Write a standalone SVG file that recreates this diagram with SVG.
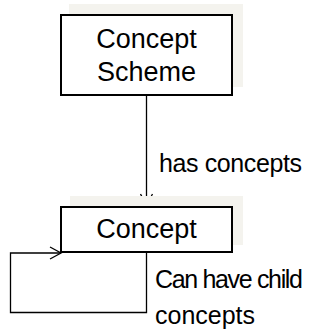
<svg xmlns="http://www.w3.org/2000/svg" width="323" height="329" viewBox="0 0 323 329">
  <style>
    .shade { fill: #f4f3ee; stroke: none; }
    .box { fill: #ffffff; stroke: #000000; stroke-width: 2; }
    .name { font-family: "Liberation Sans", Arial, sans-serif; font-size: 27px; fill: #000000; text-anchor: middle; }
    .label { font-family: "Liberation Sans", Arial, sans-serif; font-size: 25px; fill: #000000; }
    .edge { fill: none; stroke: #000000; stroke-width: 1.3; }
  </style>
  <defs>
    <marker id="open-arrow" markerUnits="userSpaceOnUse" markerWidth="14" markerHeight="14" viewBox="0 0 14 14" refX="12" refY="7" orient="auto">
      <path d="M1,1 L12,7 L1,13" fill="none" stroke="#000000" stroke-width="1.3"/>
    </marker>
  </defs>

  <g id="connectors">
    <path class="edge" d="M146.5,95 L146.5,205" marker-end="url(#open-arrow)"/>
    <path class="edge" d="M146.5,252 L146.5,312.5 L10.5,312.5 L10.5,253 L61,253" marker-end="url(#open-arrow)"/>
    <text class="label" x="159" y="172" textLength="143" lengthAdjust="spacing">has concepts</text>
    <text class="label" x="155" y="288" textLength="148" lengthAdjust="spacing">Can have child</text>
    <text class="label" x="155" y="323.5" textLength="100" lengthAdjust="spacing">concepts</text>
  </g>

  <g id="concept-scheme">
    <rect class="shade" x="69" y="4" width="174" height="83"/>
    <rect class="box" x="61" y="15" width="171" height="80"/>
    <text class="name" x="146.5" y="48">Concept</text>
    <text class="name" x="146.5" y="81">Scheme</text>
  </g>

  <g id="concept">
    <rect class="shade" x="70" y="196" width="173" height="49"/>
    <rect class="box" x="61" y="207" width="171" height="45"/>
    <text class="name" x="146.5" y="238">Concept</text>
  </g>
</svg>
